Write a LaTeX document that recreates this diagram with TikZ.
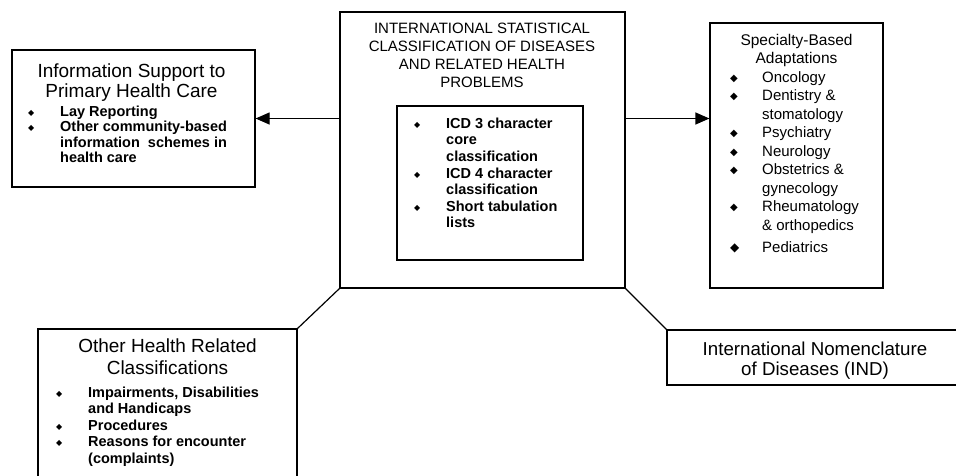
\documentclass[tikz,border=0pt]{standalone}
\usepackage{fontspec}
\setmainfont{Liberation Sans}
\newfontfamily\bulletfont{DejaVu Sans}
\usetikzlibrary{arrows.meta, positioning}
\tikzset{
	box/.style   ={rectangle, draw=black, line width=1.2pt, fill=white, inner sep=0pt},
	title/.style ={anchor=north, inner sep=0pt, align=center},
	list/.style  ={anchor=north west, inner sep=0pt, align=left},
	link/.style  ={line width=1.2pt},
	feed/.style  ={-{Triangle[length=14pt, width=12pt]}, line width=1.2pt},
}
% bullet with its indent, and the indent alone for continued lines
\newcommand{\bul}[1][8]{\makebox[33pt][l]{\hspace{1pt}\raisebox{1pt}{\bulletfont\fontsize{#1}{#1}\selectfont ◆}}}
\newcommand{\skipbul}{\hspace*{33pt}}

\begin{document}
\begin{tikzpicture}[x=1pt, y=-1pt]
	\clip (0,0) rectangle (956,475);
	% boxes
	\node[box, minimum width=285pt, minimum height=276pt] (icd) at (482.5,150) {};
	\node[box, minimum width=186pt, minimum height=154pt] (core) at (490,183) {};
	\node[box, minimum width=243pt, minimum height=137pt] (ipc) at (133.5,118.5) {};
	\node[box, minimum width=173pt, minimum height=265pt] (sba) at (796.5,155.5) {};
	\node[box, minimum width=296pt, minimum height=55pt] (ind) at (815,357.5) {};
	\node[box, minimum width=259pt, minimum height=171pt] (ohr) at (167.5,414.5) {};
	% connectors
	\draw[feed] (icd.west |- ipc.east) -- (ipc.east);
	\draw[feed] (icd.east |- ipc.east) -- (sba.west |- ipc.east);
	\draw[link] (icd.south west) -- (ohr.north east);
	\draw[link] (icd.south east) -- (ind.north west);
	% texts
	\node[title, font=\fontsize{15}{18}\selectfont] (icdtitle) at (482,22.5)
		{INTERNATIONAL STATISTICAL\\CLASSIFICATION OF DISEASES\\AND RELATED HEALTH\\PROBLEMS};
	\node[list, font=\bfseries\fontsize{14.5}{16.6}\selectfont] (corelist) at (413,117.5)
		{\bul ICD 3 character\\ \skipbul core\\ \skipbul classification\\
		 \bul ICD 4 character\\ \skipbul classification\\
		 \bul Short tabulation\\ \skipbul lists};
	\node[title, font=\fontsize{19}{20}\selectfont] (ipctitle) at (131.5,63.5)
		{Information Support to\\Primary Health Care};
	\node[list, font=\bfseries\fontsize{14.5}{15.5}\selectfont] (ipclist) at (27,105.5)
		{\bul Lay Reporting\\ \bul Other community-based\\
		 \skipbul information\ \ schemes in\\ \skipbul health care};
	\node[title, font=\fontsize{15.5}{18}\selectfont] (sbatitle) at (796.5,34)
		{Specialty-Based\\Adaptations};
	\node[list, font=\fontsize{15}{18.5}\selectfont] (sbalist) at (729,71)
		{\bul[10]Oncology\\ \bul[10]Dentistry \&\\ \skipbul stomatology\\
		 \bul[10]Psychiatry\\ \bul[10]Neurology\\ \bul[10]Obstetrics \&\\ \skipbul gynecology\\
		 \bul[10]Rheumatology\\ \skipbul \& orthopedics\\[3.5pt] \bul[12]Pediatrics};
	\node[title, font=\fontsize{18.7}{20}\selectfont] (indtitle) at (815,341.5)
		{International Nomenclature\\of Diseases (IND)};
	\node[title, font=\fontsize{19}{22}\selectfont] (ohrtitle) at (167.5,339)
		{Other Health Related\\Classifications};
	\node[list, font=\bfseries\fontsize{14.5}{16.5}\selectfont] (ohrlist) at (55,386.5)
		{\bul Impairments, Disabilities\\ \skipbul and Handicaps\\ \bul Procedures\\
		 \bul Reasons for encounter\\ \skipbul (complaints)};
\end{tikzpicture}
\end{document}
